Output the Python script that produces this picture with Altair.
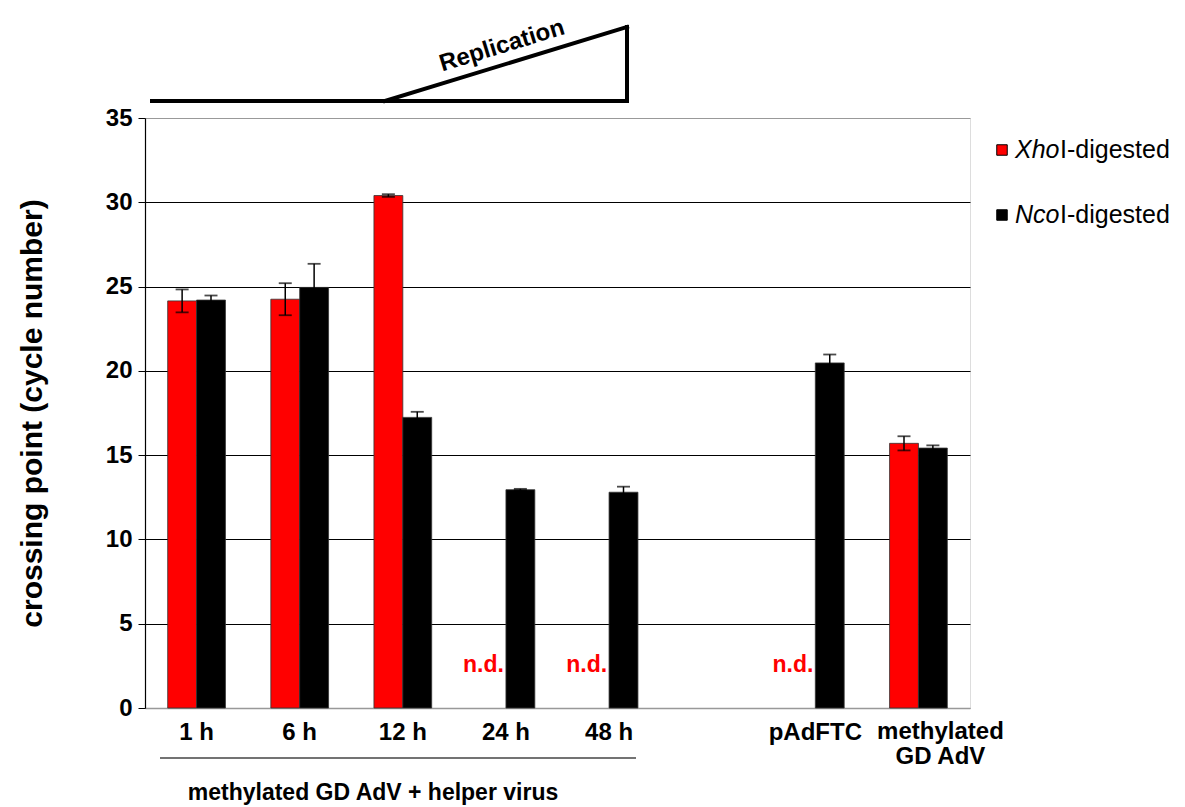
import altair as alt
import pandas as pd

# ---- data -----------------------------------------------------------------
categories = ["1 h", "6 h", "12 h", "24 h", "48 h", " ", "pAdFTC", "methylated GD AdV"]
series = ["XhoI-digested", "NcoI-digested"]
colors = ["#FF0000", "#000000"]

xho_cats = ["1 h", "6 h", "12 h", "methylated GD AdV"]
xho_vals = [24.15, 24.25, 30.4, 15.7]
xho_err = [0.68, 0.95, 0.08, 0.42]

nco_cats = ["1 h", "6 h", "12 h", "24 h", "48 h", "pAdFTC", "methylated GD AdV"]
nco_vals = [24.2, 24.95, 17.24, 12.95, 12.8, 20.47, 15.42]
nco_err = [0.27, 1.4, 0.33, 0.05, 0.33, 0.5, 0.16]

nd_cats = ["24 h", "48 h", "pAdFTC"]

y_ticks = [0, 5, 10, 15, 20, 25, 30, 35]

FONT = "Liberation Sans"

rows = []
for c, v, e in zip(xho_cats, xho_vals, xho_err):
    rows.append({"cat": c, "series": series[0], "value": v, "lo": v - e, "hi": v + e})
for c, v, e in zip(nco_cats, nco_vals, nco_err):
    rows.append({"cat": c, "series": series[1], "value": v, "lo": v - e, "hi": v + e})
df = pd.DataFrame(rows)
df_nd = pd.DataFrame({"cat": nd_cats, "series": [series[0]] * len(nd_cats), "label": ["n.d."] * len(nd_cats)})
df_last = pd.DataFrame({"cat": [categories[-1]], "label": ["methylated\nGD AdV"]})

W, H = 825, 590

x_enc = alt.X(
    "cat:N",
    sort=categories,
    scale=alt.Scale(domain=categories, paddingInner=0.44, paddingOuter=0.22),
    axis=alt.Axis(
        title=None, labelAngle=0, ticks=False, domainColor="#999999", domainWidth=1.5,
        labelFont=FONT, labelFontSize=24, labelFontWeight="bold", labelColor="black",
        labelPadding=12, labelBaseline="top", labelOverlap=False,
        labelExpr="datum.label == 'methylated GD AdV' ? '' : datum.label",
    ),
)
xoff = alt.XOffset("series:N", sort=series, scale=alt.Scale(domain=series, paddingInner=0, paddingOuter=0))

y_scale = alt.Scale(domain=[0, 35], nice=False)

bars = alt.Chart(df).mark_bar(stroke="#333333", strokeWidth=0.8).encode(
    x=x_enc,
    xOffset=xoff,
    y=alt.Y(
        "value:Q",
        scale=y_scale,
        axis=alt.Axis(
            values=y_ticks, title="crossing point (cycle number)",
            titleFont=FONT, titleFontSize=30, titleFontWeight="bold", titlePadding=58,
            labelFont=FONT, labelFontSize=24, labelFontWeight="bold", labelColor="black",
            labelPadding=6, tickSize=7, tickColor="black", domainColor="black", domainWidth=1.2,
            grid=True, gridColor=alt.ExprRef(expr="datum.value == 35 || datum.value == 0 ? '#999999' : 'black'"),
            gridWidth=1.2,
        ),
    ),
    color=alt.Color("series:N", scale=alt.Scale(domain=series, range=colors), legend=None),
)

err_rule = alt.Chart(df).mark_rule(color="black", strokeWidth=1.5).encode(
    x=alt.X("cat:N", sort=categories), xOffset=xoff,
    y=alt.Y("lo:Q", scale=y_scale), y2="hi:Q",
)
cap_hi = alt.Chart(df).mark_tick(color="black", orient="horizontal", size=13, thickness=1.8).encode(
    x=alt.X("cat:N", sort=categories), xOffset=xoff, y=alt.Y("hi:Q", scale=y_scale),
)
cap_lo = alt.Chart(df).mark_tick(color="black", orient="horizontal", size=13, thickness=1.8).encode(
    x=alt.X("cat:N", sort=categories), xOffset=xoff, y=alt.Y("lo:Q", scale=y_scale),
)

nd_text = alt.Chart(df_nd).mark_text(
    color="#FF0000", font=FONT, fontSize=23, fontWeight="bold", align="center", baseline="middle", dx=-8
).encode(
    x=alt.X("cat:N", sort=categories), xOffset=xoff, y=alt.value(547), text="label:N",
)

last_label = alt.Chart(df_last).mark_text(
    font=FONT, fontSize=24, fontWeight="bold", align="center", baseline="top", dx=22,
    lineBreak="\n", lineHeight=25, color="black",
).encode(
    x=alt.X("cat:N", sort=categories), y=alt.value(H + 12), text="label:N",
)

# ---- annotations (pixel positions relative to the plot area) -------------
seg = pd.DataFrame({
    "x": [7, 240, 482],
    "y": [-17, -17, -91],
    "x2": [482, 482, 482],
    "y2": [-17, -91, -17],
})
tri = alt.Chart(seg).mark_rule(color="black", strokeWidth=4, strokeCap="square").encode(
    x=alt.X("x:Q", scale=None), y=alt.Y("y:Q", scale=None),
    x2="x2:Q", y2="y2:Q",
)
repl = alt.Chart(pd.DataFrame({"t": ["Replication"]})).mark_text(
    font=FONT, fontSize=24, fontWeight="bold", angle=343, align="center", baseline="middle"
).encode(x=alt.value(357), y=alt.value(-72), text="t:N")

grp_line = alt.Chart(pd.DataFrame({"a": [0]})).mark_rule(color="#444444", strokeWidth=1.5).encode(
    x=alt.value(15), x2=alt.value(491), y=alt.value(640)
)
grp_text = alt.Chart(pd.DataFrame({"t": ["methylated GD AdV + helper virus"]})).mark_text(
    font=FONT, fontSize=23, fontWeight="bold", align="center", baseline="middle"
).encode(x=alt.value(228), y=alt.value(675), text="t:N")

leg = pd.DataFrame({
    "series": series,
    "ital": ["Xho", "Nco"],
    "rest": ["I-digested", "I-digested"],
})
leg_y = alt.Y("series:N", sort=series, scale=alt.Scale(domain=series, range=[32, 97], padding=0), axis=None)
leg_sym = alt.Chart(leg).mark_square(size=110, stroke="black", strokeWidth=1, opacity=1).encode(
    x=alt.value(857), y=leg_y,
    color=alt.Color("series:N", scale=alt.Scale(domain=series, range=colors), legend=None),
)
leg_ital = alt.Chart(leg).mark_text(
    font=FONT, fontSize=25, fontStyle="italic", align="left", baseline="middle", color="black"
).encode(x=alt.value(870), y=leg_y, text="ital:N")
leg_rest = alt.Chart(leg).mark_text(
    font=FONT, fontSize=25, align="left", baseline="middle", color="black"
).encode(x=alt.value(915), y=leg_y, text="rest:N")

main = alt.layer(bars, err_rule, cap_hi, cap_lo, nd_text, last_label).properties(width=W, height=H)
legend_layer = alt.layer(leg_sym, leg_ital, leg_rest)

chart = alt.layer(main, tri, repl, grp_line, grp_text, legend_layer).resolve_scale(
    y="independent", x="shared"
).properties(
    width=W, height=H,
    autosize=alt.AutoSizeParams(type="none"),
    padding={"left": 137, "top": 110, "right": 200, "bottom": 99},
).configure_view(stroke="#999999", strokeWidth=1.5).configure(font=FONT)

chart.save("out.html", embed_options={"renderer": "svg", "actions": False})
